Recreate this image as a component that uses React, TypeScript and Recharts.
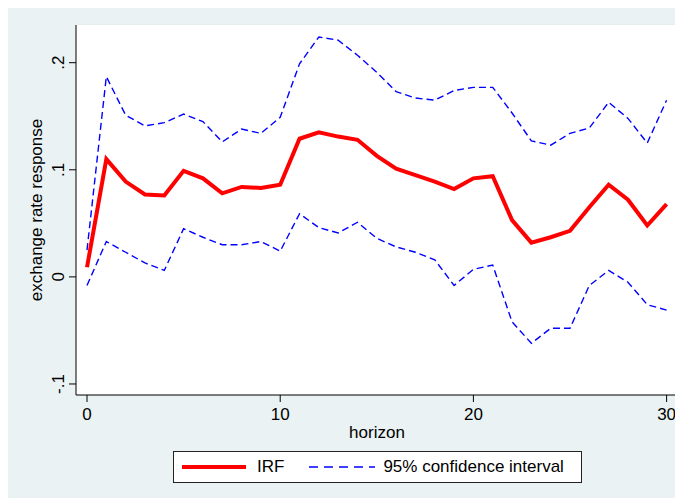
import { LineChart, Line, XAxis, YAxis, CartesianGrid, Label } from 'recharts';

const horizon = [
  0, 1, 2, 3, 4, 5, 6, 7, 8, 9, 10, 11, 12, 13, 14, 15, 16, 17, 18, 19, 20, 21, 22, 23, 24, 25, 26, 27, 28, 29, 30,
];
const irf = [
  0.009, 0.11, 0.089, 0.077, 0.076, 0.099, 0.092, 0.078, 0.084, 0.083, 0.086, 0.129, 0.135, 0.131, 0.128, 0.113,
  0.101, 0.095, 0.089, 0.082, 0.092, 0.094, 0.053, 0.032, 0.037, 0.043, 0.065, 0.086, 0.072, 0.048, 0.068,
];
const upper = [
  0.025, 0.187, 0.151, 0.141, 0.144, 0.152, 0.145, 0.126, 0.138, 0.134, 0.149, 0.199, 0.224, 0.221, 0.207, 0.191,
  0.173, 0.167, 0.165, 0.174, 0.177, 0.177, 0.153, 0.127, 0.123, 0.134, 0.139, 0.163, 0.148, 0.125, 0.165,
];
const lower = [
  -0.008, 0.033, 0.023, 0.013, 0.006, 0.045, 0.037, 0.03, 0.03, 0.033, 0.024, 0.059, 0.046, 0.041, 0.051, 0.036,
  0.028, 0.023, 0.016, -0.008, 0.007, 0.011, -0.042, -0.062, -0.048, -0.048, -0.008, 0.006, -0.005, -0.026, -0.031,
];
const xTicks = [0, 10, 20, 30];
const yTicks = [-0.1, 0, 0.1, 0.2];
const yTickLabels = ['-.1', '0', '.1', '.2'];

const data = horizon.map((h, i) => ({ h, irf: irf[i], upper: upper[i], lower: lower[i] }));

const FONT = '"Liberation Sans", Arial, sans-serif';
const BG = '#EAF2F3';

function XTick(props: any) {
  const { x, y, payload } = props;
  return (
    <text x={x} y={y} dy={16} textAnchor="middle" fontSize={17} fontFamily={FONT} fill="#000">
      {payload.value}
    </text>
  );
}

function YTick(props: any) {
  const { x, y, payload } = props;
  const i = yTicks.indexOf(payload.value);
  const px = x - 3;
  return (
    <text
      x={px}
      y={y}
      transform={`rotate(-90, ${px}, ${y})`}
      textAnchor="middle"
      fontSize={17}
      fontFamily={FONT}
      fill="#000"
    >
      {i >= 0 ? yTickLabels[i] : payload.value}
    </text>
  );
}

function YTitle(props: any) {
  const vb = props.viewBox;
  const cx = 34;
  const cy = vb.y + vb.height / 2;
  return (
    <text
      x={cx}
      y={cy}
      transform={`rotate(-90, ${cx}, ${cy})`}
      textAnchor="middle"
      fontSize={17}
      fontFamily={FONT}
      fill="#000"
    >
      exchange rate response
    </text>
  );
}

function ChartLegend() {
  return (
    <div
      style={{
        position: 'absolute',
        left: 165,
        top: 443,
        width: 407,
        height: 30,
        background: '#fff',
        border: '1px solid #222',
        display: 'flex',
        alignItems: 'center',
        fontFamily: FONT,
        fontSize: 17,
        color: '#000',
      }}
    >
      <svg width={64} height={8} style={{ marginLeft: 8 }}>
        <line x1={0} y1={4} x2={64} y2={4} stroke="#ff0000" strokeWidth={4} />
      </svg>
      <span style={{ marginLeft: 11 }}>IRF</span>
      <svg width={66} height={8} style={{ marginLeft: 25 }}>
        <line x1={0} y1={4} x2={66} y2={4} stroke="#0000ff" strokeWidth={1.4} strokeDasharray="9 6" />
      </svg>
      <span style={{ marginLeft: 8 }}>95% confidence interval</span>
    </div>
  );
}

export default function App() {
  return (
    <div style={{ position: 'relative', width: 675, height: 490, background: BG }}>
      <style>{'html,body{overflow:hidden}'}</style>
      <LineChart width={675} height={490} data={data} margin={{ top: 17, right: 5, left: 0, bottom: 0 }}>
        <rect x={68} y={17} width={602} height={370} fill="#fff" />
        <CartesianGrid vertical={false} stroke="#E4ECEE" strokeWidth={1.5} fill="#fff" />
        <XAxis
          type="number"
          dataKey="h"
          domain={[-0.57, 30.59]}
          ticks={xTicks}
          allowDataOverflow
          height={103}
          tickSize={7}
          axisLine={{ stroke: '#000' }}
          tickLine={{ stroke: '#000' }}
          tick={<XTick />}
        >
          <Label value="horizon" position="insideTop" offset={31} fontSize={17} fontFamily={FONT} fill="#000" />
        </XAxis>
        <YAxis
          type="number"
          domain={[-0.1103, 0.2352]}
          ticks={yTicks}
          allowDataOverflow
          width={68}
          tickSize={7}
          axisLine={{ stroke: '#000' }}
          tickLine={{ stroke: '#000' }}
          tick={<YTick />}
        >
          <Label content={<YTitle />} />
        </YAxis>
        <Line
          type="linear"
          dataKey="upper"
          stroke="#0000ff"
          strokeWidth={1.4}
          strokeDasharray="7 4"
          dot={false}
          isAnimationActive={false}
        />
        <Line
          type="linear"
          dataKey="lower"
          stroke="#0000ff"
          strokeWidth={1.4}
          strokeDasharray="7 4"
          dot={false}
          isAnimationActive={false}
        />
        <Line
          type="linear"
          dataKey="irf"
          stroke="#ff0000"
          strokeWidth={4}
          dot={false}
          isAnimationActive={false}
        />
      </LineChart>
      <ChartLegend />
    </div>
  );
}
